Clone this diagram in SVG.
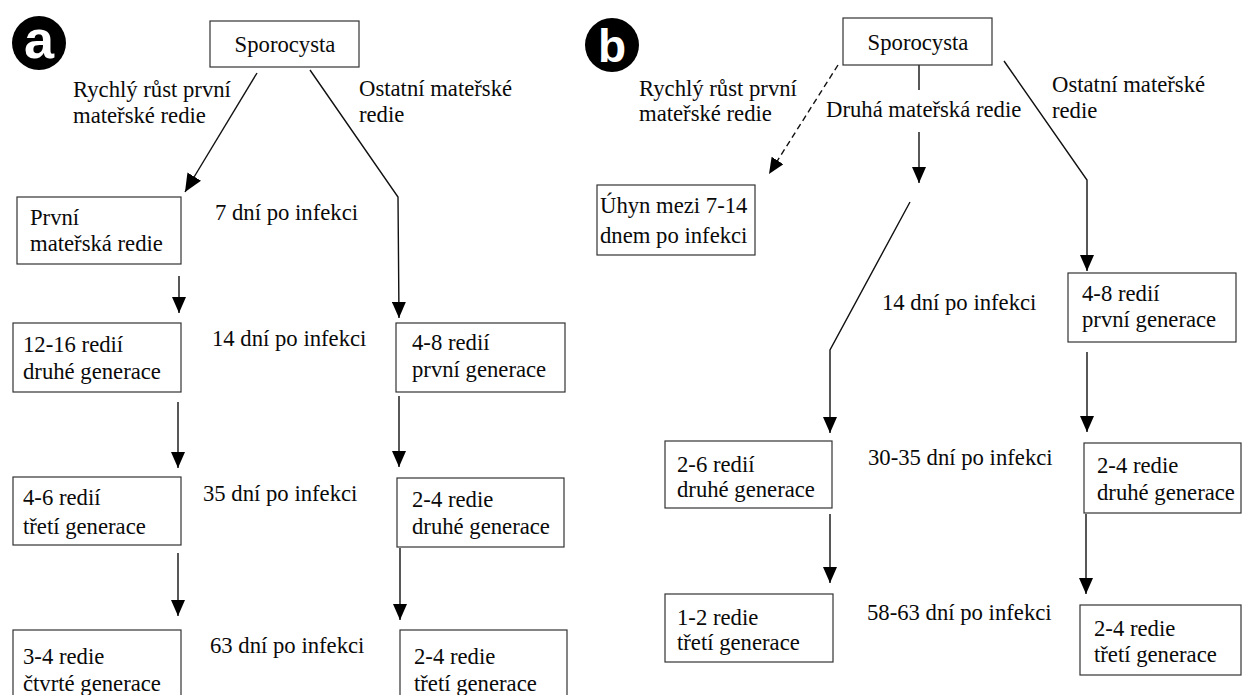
<svg xmlns="http://www.w3.org/2000/svg" width="1244" height="695" viewBox="0 0 1244 695">
<style>
.bg{fill:#fff}
.box{fill:#fff;stroke:#333;stroke-width:1.2}
.t{font-family:'Liberation Serif','Times New Roman',serif;font-size:22.7px;fill:#0a0a0a}
.ln{fill:none;stroke:#111;stroke-width:1.4}
.dash{stroke-dasharray:6 4}
.badge{fill:#000}
.bl{font-family:'Liberation Sans',Arial,sans-serif;font-weight:bold;fill:#fff;text-anchor:middle}
</style>
<defs>
<marker id="ah" viewBox="0 0 16 14" refX="16" refY="7" markerWidth="16" markerHeight="14" markerUnits="userSpaceOnUse" orient="auto">
<path d="M0,0 L16,7 L0,14 z" fill="#000"/>
</marker>
<marker id="ahL" viewBox="0 0 18 16" refX="18" refY="8" markerWidth="18" markerHeight="16" markerUnits="userSpaceOnUse" orient="auto">
<path d="M0,0 L18,8 L0,16 z" fill="#000"/>
</marker>
</defs>
<rect class="bg" x="0" y="0" width="1244" height="695"/>

<g id="badge-a"><circle class="badge" cx="39" cy="43" r="27"/><text class="bl" x="39" y="58" font-size="54">a</text></g>
<g id="badge-b"><circle class="badge" cx="612" cy="45" r="27"/><text class="bl" x="612" y="62" font-size="46">b</text></g>

<g id="connectors">
<line class="ln" x1="257" y1="73" x2="185" y2="192" marker-end="url(#ahL)"/>
<polyline class="ln" points="310,70 398,197 399,318" marker-end="url(#ah)"/>
<line class="ln" x1="179" y1="276" x2="179" y2="313" marker-end="url(#ah)"/>
<line class="ln" x1="178" y1="402" x2="178" y2="468" marker-end="url(#ah)"/>
<line class="ln" x1="178" y1="553" x2="178" y2="616" marker-end="url(#ah)"/>
<line class="ln" x1="399" y1="396" x2="399" y2="467" marker-end="url(#ah)"/>
<line class="ln" x1="400" y1="548" x2="400" y2="620" marker-end="url(#ah)"/>

<line class="ln dash" x1="838" y1="65" x2="769" y2="174" marker-end="url(#ah)"/>
<line class="ln" x1="919" y1="65" x2="919" y2="90"/>
<line class="ln" x1="919" y1="132" x2="919" y2="183" marker-end="url(#ah)"/>
<polyline class="ln" points="910,202 830,350 830,433" marker-end="url(#ah)"/>
<line class="ln" x1="830" y1="514" x2="830" y2="583" marker-end="url(#ah)"/>
<polyline class="ln" points="1004,61 1087,180 1087,271" marker-end="url(#ah)"/>
<line class="ln" x1="1087" y1="352" x2="1087" y2="432" marker-end="url(#ah)"/>
<line class="ln" x1="1086" y1="514" x2="1086" y2="594" marker-end="url(#ah)"/>
</g>

<g id="labels-a">
<text class="t" x="73" y="97">Rychlý růst první</text>
<text class="t" x="73" y="123">mateřské redie</text>
<text class="t" x="359" y="96">Ostatní mateřské</text>
<text class="t" x="359" y="122">redie</text>
<text class="t" x="215" y="220">7 dní po infekci</text>
<text class="t" x="212" y="346">14 dní po infekci</text>
<text class="t" x="203" y="501">35 dní po infekci</text>
<text class="t" x="210" y="653">63 dní po infekci</text>
</g>

<g id="a-sporocysta"><rect class="box" x="210" y="21" width="149" height="46"/><text class="t" x="285" y="52" text-anchor="middle">Sporocysta</text></g>
<g id="a-prvni-materska"><rect class="box" x="17" y="197" width="164" height="67"/><text class="t" x="30" y="225">První</text><text class="t" x="30" y="251">mateřská redie</text></g>
<g id="a-12-16"><rect class="box" x="13" y="323" width="168" height="69"/><text class="t" x="23" y="352">12-16 redií</text><text class="t" x="23" y="379">druhé generace</text></g>
<g id="a-4-6"><rect class="box" x="13" y="477" width="168" height="68"/><text class="t" x="23" y="505">4-6 redií</text><text class="t" x="23" y="534">třetí generace</text></g>
<g id="a-3-4"><rect class="box" x="13" y="630" width="168" height="75"/><text class="t" x="23" y="664">3-4 redie</text><text class="t" x="23" y="691">čtvrté generace</text></g>
<g id="a-4-8"><rect class="box" x="396" y="323" width="169" height="69"/><text class="t" x="412" y="350">4-8 redií</text><text class="t" x="412" y="377">první generace</text></g>
<g id="a-2-4-druhe"><rect class="box" x="397" y="478" width="167" height="69"/><text class="t" x="412" y="507">2-4 redie</text><text class="t" x="412" y="534">druhé generace</text></g>
<g id="a-2-4-treti"><rect class="box" x="400" y="630" width="167" height="75"/><text class="t" x="414" y="664">2-4 redie</text><text class="t" x="414" y="691">třetí generace</text></g>

<g id="labels-b">
<text class="t" x="639" y="96">Rychlý růst první</text>
<text class="t" x="639" y="121">mateřské redie</text>
<text class="t" x="826" y="117">Druhá mateřská redie</text>
<text class="t" x="1052" y="92">Ostatní mateřské</text>
<text class="t" x="1052" y="118">redie</text>
<text class="t" x="882" y="310">14 dní po infekci</text>
<text class="t" x="868" y="465">30-35 dní po infekci</text>
<text class="t" x="867" y="620">58-63 dní po infekci</text>
</g>

<g id="b-sporocysta"><rect class="box" x="843" y="18" width="149" height="47"/><text class="t" x="918" y="50" text-anchor="middle">Sporocysta</text></g>
<g id="b-uhyn"><rect class="box" x="597" y="185" width="158" height="70"/><text class="t" x="600" y="213">Úhyn mezi 7-14</text><text class="t" x="600" y="243">dnem po infekci</text></g>
<g id="b-4-8"><rect class="box" x="1068" y="273" width="168" height="69"/><text class="t" x="1082" y="301">4-8 redií</text><text class="t" x="1082" y="327">první generace</text></g>
<g id="b-2-6"><rect class="box" x="665" y="441" width="167" height="67"/><text class="t" x="677" y="472">2-6 redií</text><text class="t" x="677" y="497">druhé generace</text></g>
<g id="b-2-4-druhe"><rect class="box" x="1084" y="443" width="157" height="70"/><text class="t" x="1097" y="473">2-4 redie</text><text class="t" x="1097" y="500">druhé generace</text></g>
<g id="b-1-2"><rect class="box" x="665" y="594" width="168" height="68"/><text class="t" x="677" y="625">1-2 redie</text><text class="t" x="677" y="650">třetí generace</text></g>
<g id="b-2-4-treti"><rect class="box" x="1080" y="605" width="161" height="70"/><text class="t" x="1094" y="636">2-4 redie</text><text class="t" x="1094" y="662">třetí generace</text></g>
</svg>
